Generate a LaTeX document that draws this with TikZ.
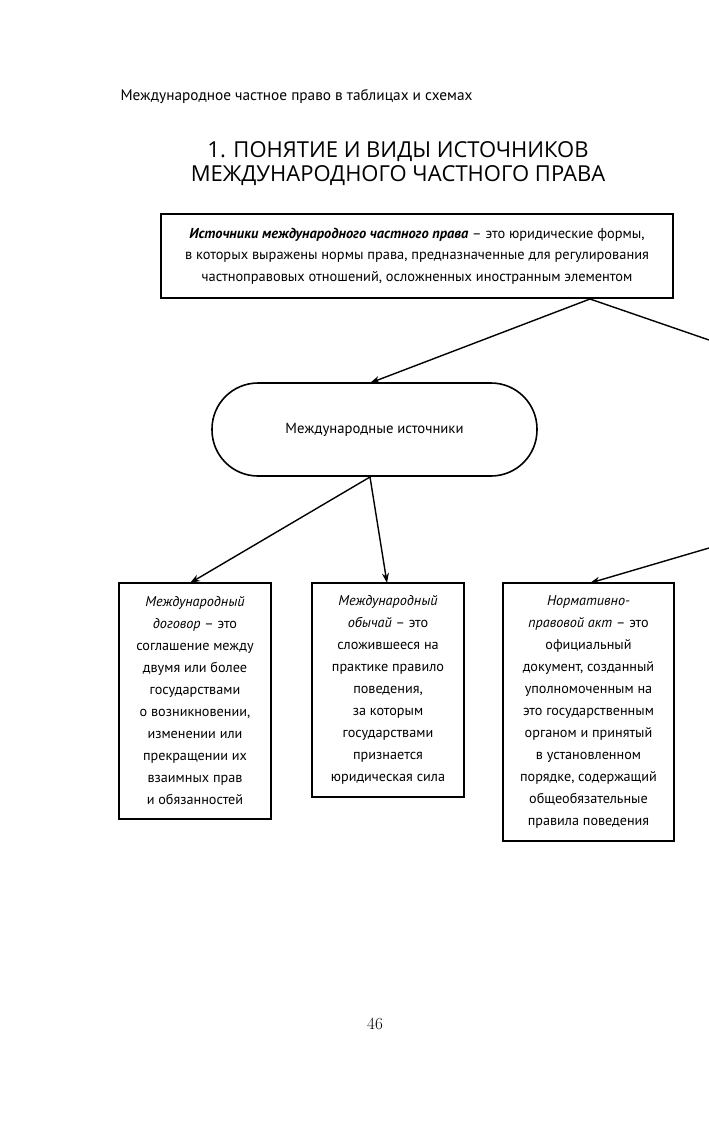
\documentclass[tikz,border=0pt]{standalone}
\usepackage{fontspec}
\setmainfont{PT Sans}
\newfontfamily\titlefont{Open Sans}
\usetikzlibrary{arrows.meta}
\begin{document}
\begin{tikzpicture}[x=1pt,y=-1pt,
  arr/.style={line width=1.4pt,-{Stealth[length=10pt,width=7pt]}},
  plain/.style={line width=1.4pt},
  defbox/.style={draw,line width=1.8pt,align=center,inner sep=0pt,
     font=\fontsize{14.2}{22}\selectfont},
]
\useasboundingbox (0,0) rectangle (709,1122);
\node[anchor=west,font=\fontsize{15.3}{17}\selectfont] (hdr) at (117,97) {Международное частное право в таблицах и схемах};
\node[align=center,font=\titlefont\fontsize{22}{24}\selectfont] (title) at (398,164) {1. ПОНЯТИЕ И ВИДЫ ИСТОЧНИКОВ\\МЕЖДУНАРОДНОГО ЧАСТНОГО ПРАВА};
\node[draw,line width=2.4pt,align=center,minimum width=512,minimum height=84,inner sep=0pt,
  font=\fontsize{14.4}{21.5}\selectfont] (top) at (417,256)
  {\textbf{\textit{Источники международного частного права}} – это юридические формы,\\
   в которых выражены нормы права, предназначенные для регулирования\\
   частноправовых отношений, осложненных иностранным элементом};
\node[draw,line width=1.6pt,rounded corners=46pt,minimum width=325,minimum height=93,
  font=\fontsize{14.7}{17}\selectfont] (intl) at (374.5,429.5) {Международные источники};
\node[defbox,minimum width=152,minimum height=236] (treaty) at (195,701)
  {\textit{Международный}\\\textit{договор} – это\\соглашение между\\двумя или более\\государствами\\о возникновении,\\изменении или\\прекращении их\\взаимных прав\\и обязанностей};
\node[defbox,minimum width=152,minimum height=214] (custom) at (388,690)
  {\textit{Международный}\\\textit{обычай} – это\\сложившееся на\\практике правило\\поведения,\\за которым\\государствами\\признается\\юридическая сила};
\node[defbox,minimum width=171,minimum height=258] (act) at (588.5,712)
  {\textit{Нормативно-}\\\textit{правовой акт} – это\\официальный\\документ, созданный\\уполномоченным на\\это государственным\\органом и принятый\\в установленном\\порядке, содержащий\\общеобязательные\\правила поведения};
\coordinate (ts) at (590,299);
\coordinate (offA) at (709,340);
\coordinate (offB) at (709,548);
\coordinate (is) at (370,477);
\draw[arr] (ts) -- (370,383);
\draw[plain] (ts) -- (offA);
\draw[arr] (is) -- (190,583);
\draw[arr] (is) -- (387,583);
\draw[arr] (offB) -- (590,583);
\node (pg) at (375,1024) {\fontspec{Latin Modern Roman}\fontsize{17}{19}\selectfont 46};
\end{tikzpicture}
\end{document}
